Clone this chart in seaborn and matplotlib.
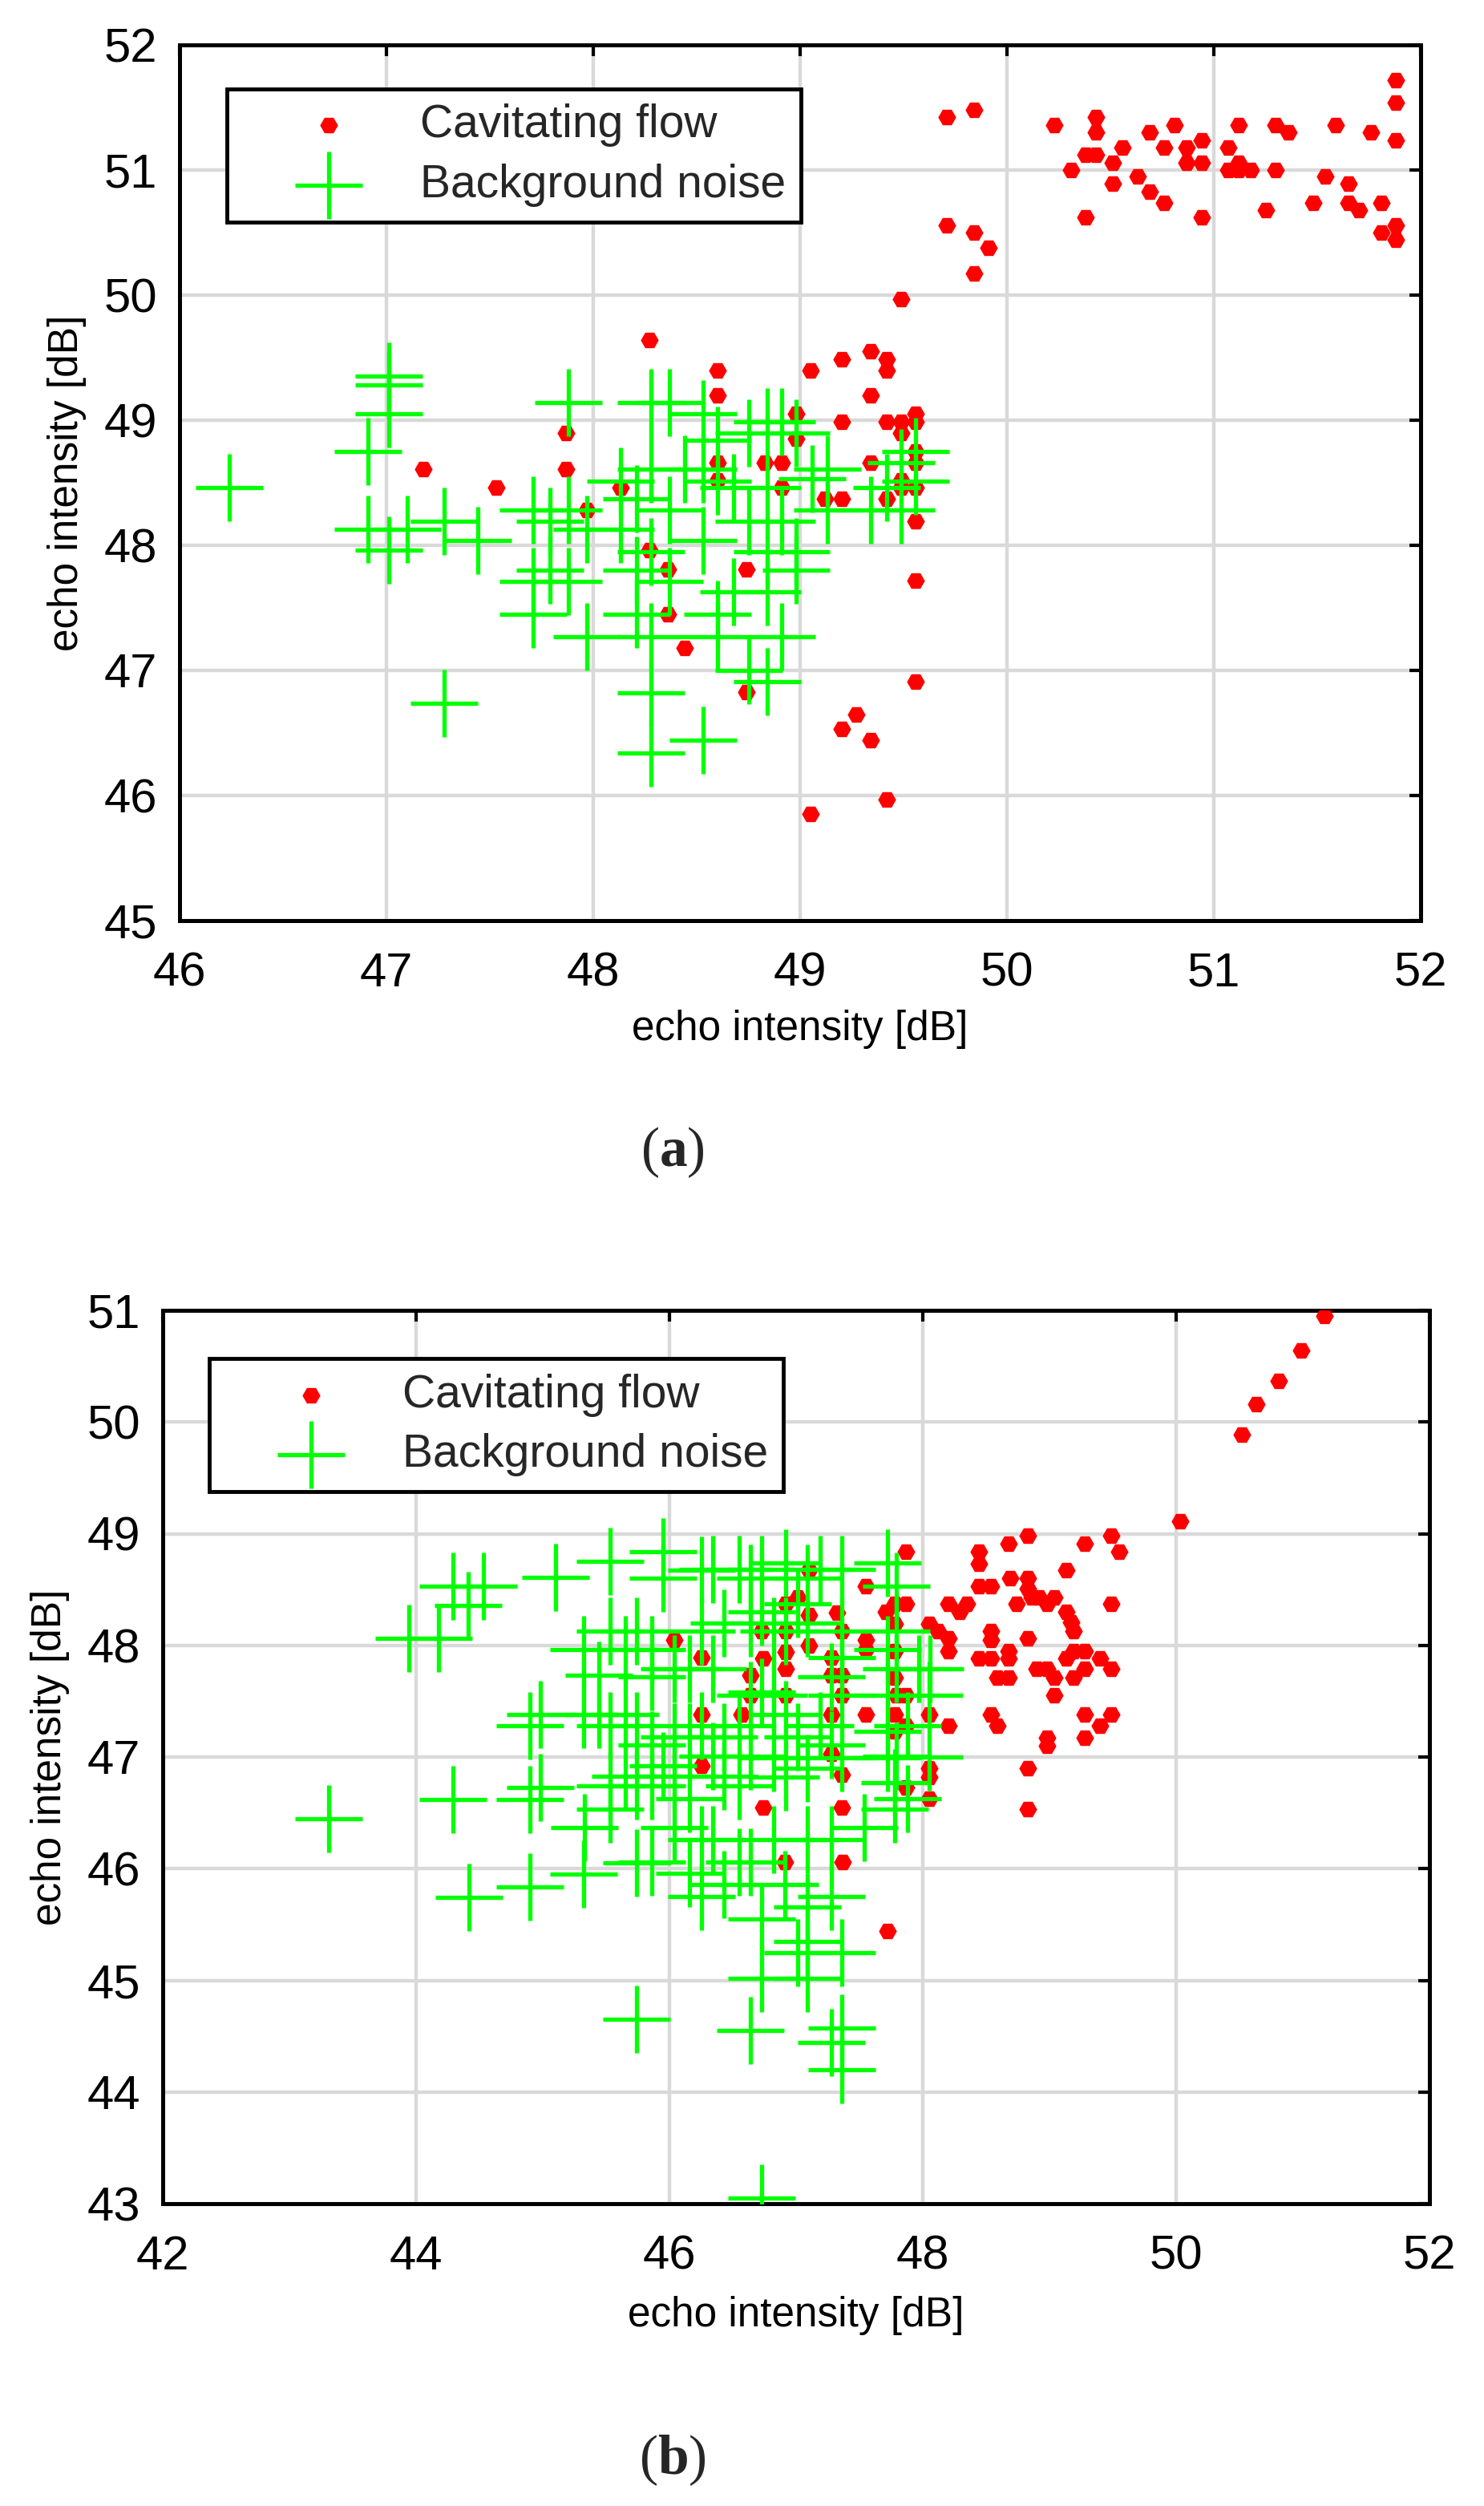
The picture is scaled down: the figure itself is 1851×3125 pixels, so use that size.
import matplotlib
matplotlib.use('Agg')
import matplotlib.pyplot as plt
import seaborn as sns

sns.set_theme(style='white')
plt.rcParams['font.family'] = ['Liberation Sans', 'DejaVu Sans']
plt.rcParams['mathtext.fontset'] = 'custom'
plt.rcParams['mathtext.rm'] = 'Liberation Serif'
plt.rcParams['mathtext.bf'] = 'Liberation Serif:bold'

# ---------- panel (a) ----------
cav_a_x = [48.27, 48.60, 48.60, 49.05, 49.20, 49.34, 49.34, 49.20, 48.98, 48.98,
           47.87, 47.87, 47.18, 47.53, 48.13, 47.97, 48.60, 48.60, 48.83, 48.91,
           48.91, 49.12, 49.20, 49.34, 48.27, 48.36, 48.74, 48.36, 48.44, 48.74,
           49.27, 49.20, 49.34, 49.05,
           51.88, 51.88, 51.88, 51.88, 51.88, 51.81, 51.81, 51.76, 51.59, 51.65,
           51.65, 51.70, 51.48, 51.54, 51.30, 51.36, 51.30, 51.25, 51.12, 51.07,
           51.07, 51.12, 51.12, 51.18, 50.94, 50.94, 50.94, 50.87, 50.87, 50.81,
           50.76, 50.69, 50.76, 50.69, 50.63, 50.56, 50.51, 50.51, 50.43, 50.43,
           50.38, 50.43, 50.31, 50.38, 50.23, 49.84, 49.71, 49.71, 49.84, 49.91,
           49.84, 49.49, 49.42, 49.42, 49.42, 49.49, 49.56, 49.56, 49.49, 49.56,
           49.56, 49.49, 49.49, 49.56, 49.42, 49.56, 49.56, 49.56, 49.42]
cav_a_y = [49.64, 49.40, 49.20, 49.40, 49.49, 49.55, 49.20, 48.99, 49.05, 48.85,
           48.90, 48.61, 48.61, 48.46, 48.46, 48.28, 48.66, 48.52, 48.66, 48.66,
           48.46, 48.37, 48.37, 48.66, 47.96, 47.81, 47.81, 47.45, 47.18, 46.83,
           46.65, 46.53, 46.44, 45.85,
           51.72, 51.54, 51.24, 50.56, 50.44, 50.50, 50.74, 51.30, 51.36, 50.89,
           50.74, 50.68, 50.74, 50.95, 51.36, 51.30, 51.00, 50.68, 51.36, 51.18,
           51.00, 51.06, 51.00, 51.00, 51.24, 51.06, 50.62, 51.18, 51.06, 51.36,
           51.18, 51.30, 50.74, 50.83, 50.95, 51.18, 51.06, 50.89, 51.42, 51.30,
           51.12, 51.12, 51.00, 50.62, 51.36, 51.48, 51.42, 50.56, 50.50, 50.38,
           50.17, 49.97, 49.49, 49.40, 48.99, 48.99, 49.05, 48.99, 48.90, 48.75,
           48.66, 48.52, 48.46, 48.46, 48.37, 48.19, 47.72, 46.91, 45.97]

noise_a_x = [47.88, 48.28, 48.37, 48.53, 48.84, 48.91, 48.75, 48.98, 48.60, 49.56,
             49.56, 49.49, 49.49, 49.42, 49.34, 49.13, 49.06, 49.13, 48.44, 48.53,
             48.68, 48.60, 48.84, 48.13, 48.21, 48.28, 48.37, 47.71, 47.88, 47.88,
             47.79, 47.97, 48.13, 48.75, 48.91, 48.53, 48.84, 48.98, 48.28, 47.79,
             48.21, 47.71, 48.37, 48.68, 48.84, 47.71, 48.21, 48.60, 47.97, 48.28,
             48.60, 48.91, 48.75, 48.84, 48.28, 48.28, 48.53, 48.98,
             46.24, 47.01, 47.01, 47.01, 46.91, 46.91, 47.01, 47.10, 47.28, 47.44,
             47.28]
noise_a_y = [49.14, 49.14, 49.14, 49.05, 48.99, 48.99, 48.90, 48.90, 48.84, 48.75,
             48.51, 48.66, 48.28, 48.46, 48.28, 48.28, 48.53, 48.61, 48.61, 48.61,
             48.46, 48.51, 48.46, 48.51, 48.37, 48.61, 48.28, 48.28, 48.28, 47.71,
             48.19, 48.13, 48.13, 48.19, 48.19, 48.04, 47.95, 47.80, 47.95, 47.80,
             47.80, 47.71, 47.71, 47.63, 47.63, 47.45, 47.45, 47.45, 47.27, 47.27,
             47.27, 47.27, 47.00, 46.91, 46.82, 46.34, 46.44, 47.95,
             48.46, 49.35, 49.28, 49.05, 48.75, 48.13, 47.96, 48.13, 48.19, 48.04,
             46.74]

# ---------- panel (b) ----------
cav_b_x = [51.17, 50.99, 50.81, 50.63, 50.52, 50.03, 49.49, 49.55, 49.28, 48.83,
           48.68, 48.44, 48.44, 49.13, 47.87, 48.69, 48.83, 48.44, 48.54, 48.83,
           48.86, 48.92, 49.04, 48.74, 48.98, 49.49, 48.20, 48.35, 48.29, 47.87,
           47.78, 47.71, 49.13, 49.17, 49.19, 48.05, 48.12, 48.20, 48.20, 48.54,
           48.54, 48.83, 48.68, 48.68, 48.44, 48.54, 49.19, 49.28, 49.13, 49.40,
           49.49, 49.28, 49.19, 48.90, 48.98, 49.04, 48.59, 48.68, 49.04, 48.54,
           48.59, 48.20, 48.05, 49.28, 49.49, 49.40, 48.98, 48.98, 49.28, 48.83,
           48.83, 48.05, 48.05, 48.05, 47.87, 47.78, 47.87, 47.78, 47.78, 47.78,
           47.78, 47.87, 47.72,
           47.55, 47.10, 47.01, 46.92, 47.10, 47.32, 47.36, 47.55, 47.55, 46.73,
           46.92, 46.92, 47.10, 46.74, 46.92, 47.28, 47.28, 47.36, 46.64, 46.64,
           46.92, 47.36, 47.79, 46.57, 47.28, 47.55, 47.28, 47.36, 46.74, 47.36,
           46.04, 46.25, 46.25, 46.25, 46.91, 47.37]
cav_b_y = [50.95, 50.64, 50.37, 50.16, 49.89, 49.11, 48.98, 48.84, 48.91, 48.98,
           48.91, 48.84, 48.73, 48.67, 48.84, 48.60, 48.60, 48.53, 48.53, 48.51,
           48.43, 48.43, 48.43, 48.37, 48.37, 48.37, 48.37, 48.37, 48.30, 48.37,
           48.37, 48.30, 48.30, 48.21, 48.13, 48.19, 48.13, 48.06, 47.95, 48.13,
           48.05, 48.06, 47.95, 47.88, 47.88, 47.88, 47.95, 47.95, 47.88, 47.88,
           47.79, 47.79, 47.71, 47.79, 47.79, 47.71, 47.71, 47.71, 47.55, 47.38,
           47.28, 47.28, 47.38, 47.38, 47.38, 47.28, 47.17, 47.10, 47.17, 46.90,
           46.53, 46.90, 46.82, 46.63, 46.73, 47.38, 47.28, 47.23, 47.71, 47.95,
           48.19, 47.55, 45.44,
           48.53, 48.67, 48.43, 48.37, 48.27, 48.29, 48.13, 48.05, 47.96, 48.13,
           48.13, 47.94, 48.00, 47.88, 47.79, 47.89, 47.73, 47.73, 47.73, 47.55,
           47.55, 47.55, 47.55, 47.38, 47.38, 47.38, 47.03, 46.84, 46.55, 46.55,
           48.05, 47.89, 47.38, 46.92, 46.06, 46.06]

noise_b_x = [43.31, 43.94, 44.18, 44.29, 44.41, 44.53, 45.10, 45.53, 45.95, 44.90,
             44.98, 44.29, 44.90, 44.98, 44.42, 44.90, 45.32, 45.74, 46.64, 46.73,
             45.33, 45.74,
             45.95, 46.25, 46.34, 46.55, 46.64, 46.64, 46.43, 45.53, 45.74, 45.32,
             45.65, 45.86, 46.25, 45.44, 45.86, 46.04, 46.16, 46.34, 46.64, 45.32,
             45.44, 45.65, 45.53, 45.74, 46.25, 46.55, 46.04, 46.16, 46.43, 45.86,
             46.34, 46.64, 45.65, 46.04, 46.43, 45.53, 45.74, 45.86, 46.55, 46.16,
             45.95,
             46.73, 46.73, 46.73, 46.82, 46.82, 46.82, 46.92, 46.92, 46.92, 46.92,
             47.01, 47.01, 47.09, 47.09, 47.09, 47.19, 47.19, 47.28, 47.28, 47.36,
             47.36, 47.36, 47.36, 47.36, 47.72, 47.79, 47.79, 47.72, 47.79, 48.06,
             47.72, 47.72, 47.79, 47.88, 47.88, 47.97,
             45.86, 46.04, 46.16, 46.25, 46.34, 46.43, 46.55, 46.64, 46.73, 46.73,
             46.82, 46.91, 47.01, 47.09, 47.09, 47.09, 47.28, 47.28, 47.36, 47.36,
             47.36, 47.54, 47.78, 47.28, 47.09, 46.25, 45.53,
             48.05, 48.05, 47.78, 47.72]
noise_b_y = [46.45, 48.06, 48.06, 48.53, 48.36, 48.53, 48.61, 48.75, 48.84, 47.28,
             47.38, 46.62, 46.62, 46.73, 45.74, 45.84, 45.95, 44.65, 44.55, 43.05,
             46.37, 46.05,
             48.60, 48.67, 48.68, 48.68, 48.60, 48.20, 48.20, 48.13, 48.13, 47.96,
             47.96, 47.96, 48.13, 47.73, 47.72, 47.79, 47.79, 47.79, 47.55, 47.38,
             47.38, 47.38, 47.28, 47.28, 47.28, 47.28, 47.18, 47.18, 47.18, 47.11,
             47.01, 47.01, 46.83, 46.83, 46.83, 46.74, 46.74, 46.74, 46.74, 46.63,
             46.92,
             48.68, 48.30, 47.58, 48.13, 47.55, 46.99, 48.74, 48.13, 47.38, 46.82,
             48.37, 47.18, 48.60, 48.20, 46.90, 48.68, 47.28, 47.72, 47.11, 48.68,
             48.13, 47.89, 47.55, 46.99, 48.74, 48.53, 48.13, 47.96, 47.79, 47.79,
             47.55, 46.99, 47.01, 47.28, 46.63, 47.79,
             46.06, 46.37, 45.96, 45.75, 46.26, 45.86, 46.06, 46.06, 45.55, 45.02,
             46.26, 45.86, 45.25, 45.66, 45.35, 45.02, 45.75, 44.44, 45.25, 44.57,
             44.20, 46.37, 46.53, 46.26, 46.26, 46.26, 46.53,
             47.55, 47.00, 46.77, 47.23]

W, H = 1851, 3125
fig = plt.figure(figsize=(W / 100, H / 100), dpi=100)


def make_axes(left, top, right, bottom):
    return fig.add_axes([left / W, 1 - bottom / H, (right - left) / W, (bottom - top) / H])


def draw_panel(ax, cx, cy, nx, ny, xlim, ylim, xticks, yticks, anchor, xlab_y):
    ax.grid(True, color='#d9d9d9', linewidth=3.2)
    ax.set_axisbelow(True)
    sns.scatterplot(x=cx, y=cy, ax=ax, color='#ff0000', marker='H', s=260,
                    linewidth=0, label='Cavitating flow', zorder=3)
    sns.scatterplot(x=nx, y=ny, ax=ax, color='#00ff00', marker='+', s=3600,
                    linewidth=3.8, label='Background noise', zorder=4)
    ax.set_xlim(*xlim)
    ax.set_ylim(*ylim)
    ax.set_xticks(xticks)
    ax.set_yticks(yticks)
    ax.tick_params(direction='in', length=10, width=3, top=True, right=True,
                   labelsize=43, colors='black')
    ax.tick_params(axis='x', pad=28)
    ax.tick_params(axis='y', pad=20)
    for sp in ax.spines.values():
        sp.set_visible(True)
        sp.set_color('black')
        sp.set_linewidth(3.6)
    ax.set_xlabel('echo intensity [dB]', fontsize=37, color='black')
    ax.set_ylabel('echo intensity [dB]', fontsize=37, color='black')
    ax.xaxis.label.set_va('center')
    ax.yaxis.label.set_va('center')
    ax.xaxis.set_label_coords(0.5, xlab_y)
    ax.yaxis.set_label_coords(-140 / (ax.get_position().width * W), 0.5)
    leg = ax.legend(loc='upper left', bbox_to_anchor=anchor, fontsize=41,
                    frameon=True, fancybox=False, edgecolor='black', framealpha=1,
                    borderpad=0.33, handlelength=3.8, handletextpad=0.1,
                    labelspacing=0.36, borderaxespad=0)
    leg.get_frame().set_linewidth(3.5)


ax_a = make_axes(224, 56, 1772, 1148)
draw_panel(ax_a, cav_a_x, cav_a_y, noise_a_x, noise_a_y,
           (46, 52), (45, 52), range(46, 53), range(45, 53),
           (0.038, 0.95), -(1284 - 1148) / 1092)

ax_b = make_axes(203, 1634, 1783, 2748)
draw_panel(ax_b, cav_b_x, cav_b_y, noise_b_x, noise_b_y,
           (42, 52), (43, 51), range(42, 53, 2), range(43, 52),
           (0.037, 0.946), -(2887 - 2748) / 1114)

fig.text(839 / W, 1 - 1437 / H, r'($\mathbf{a}$)', fontsize=50, ha='center', va='center',
         family='Liberation Serif')
fig.text(839 / W, 1 - 3068 / H, r'($\mathbf{b}$)', fontsize=50, ha='center', va='center',
         family='Liberation Serif')

fig.savefig('out.png', dpi=100, facecolor='white')
